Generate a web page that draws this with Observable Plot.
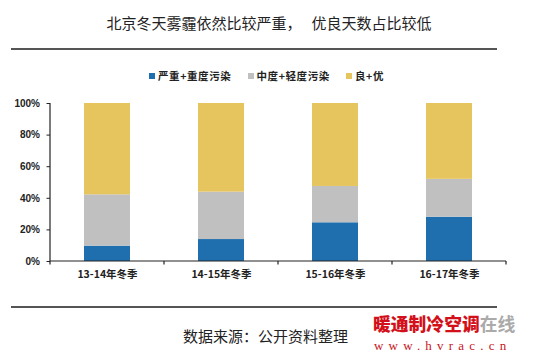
<!DOCTYPE html>
<html>
<head>
<meta charset="utf-8">
<script src="https://cdn.jsdelivr.net/npm/d3@7"></script>
<script src="https://cdn.jsdelivr.net/npm/@observablehq/plot@0.6"></script>
<style>
  html, body { margin: 0; padding: 0; background: #fff; }
  #wrap { position: relative; width: 538px; height: 358px; overflow: hidden; font-family: "Noto Sans CJK SC", sans-serif; }
  #wrap svg { position: absolute; left: 0; top: 0; }
  .title { position: absolute; left: 0; width: 538px; top: 12px; text-align: center; font-size: 15px; color: #222; white-space: pre; }
  .rule { position: absolute; left: 11px; width: 486px; height: 0; border-top: 2px solid #555; }
  .legend { position: absolute; top: 68px; left: 149px; display: flex; font-size: 10.5px; font-weight: bold; color: #222; letter-spacing: 0.6px; }
  .legend .item { display: flex; align-items: center; width: 98.5px; }
  .legend .sw { width: 6px; height: 6px; margin-right: 3px; }
  .caption { position: absolute; top: 325px; left: 183px; font-size: 15px; color: #222; }
  .wm1 { position: absolute; top: 315px; left: 373px; font-size: 17.8px; line-height: 17.8px; font-weight: 900; color: #d3101a; }
  .wm1 span { color: #aaa; font-weight: 700; }
  .wm2 { position: absolute; top: 339px; left: 374px; font-size: 13px; line-height: 13px; font-family: "Liberation Serif", serif; color: #c8141c; letter-spacing: 5.2px; }
</style>
</head>
<body>
<div id="wrap"></div>
<script>
const titleText = "北京冬天雾霾依然比较严重，   优良天数占比较低";
const captionText = "数据来源：公开资料整理";
const seasons = ["13-14年冬季", "14-15年冬季", "15-16年冬季", "16-17年冬季"];
const seriesNames = ["严重+重度污染", "中度+轻度污染", "良+优"];
const seriesColors = ["#1f6eae", "#c0c0c0", "#e6c45e"];
const severe = [9.7, 13.9, 24.5, 28.0];
const moderate = [32.5, 30.0, 23.0, 24.0];
const good = [57.8, 56.1, 52.5, 48.0];
const yTicks = [0, 20, 40, 60, 80, 100];

const seriesValues = [severe, moderate, good];
const data = [];
seasons.forEach((s, i) => {
  seriesNames.forEach((n, j) => data.push({season: s, type: n, value: seriesValues[j][i]}));
});

const wrap = document.getElementById("wrap");

function axisLines(index, scales, values, dimensions) {
  const {x, y} = scales;
  const g = d3.create("svg:g").attr("stroke", "#222").attr("stroke-width", 1.2).attr("fill", "none");
  const xl = dimensions.marginLeft;
  const xr = dimensions.width - dimensions.marginRight;
  const y0 = y(0), y1 = y(100);
  g.append("line").attr("x1", xl).attr("x2", xr).attr("y1", y0).attr("y2", y0);
  g.append("line").attr("x1", xl).attr("x2", xl).attr("y1", y0).attr("y2", y1);
  const step = x.step(), bw = x.bandwidth();
  const bounds = seasons.map(s => x(s) + bw / 2 - step / 2);
  bounds.push(x(seasons[seasons.length - 1]) + bw / 2 + step / 2);
  bounds.forEach(b => g.append("line").attr("x1", b).attr("x2", b).attr("y1", y0).attr("y2", y0 + 3.5));
  return g.node();
}

const chart = Plot.plot({
  width: 538,
  height: 300,
  marginTop: 103,
  marginBottom: 39,
  marginLeft: 50,
  marginRight: 32,
  style: {fontFamily: "'Liberation Sans', 'Noto Sans CJK SC', sans-serif", background: "transparent", overflow: "visible"},
  x: {domain: seasons, paddingInner: 0.6, paddingOuter: 0.3, label: null},
  y: {domain: [0, 100], label: null},
  color: {domain: seriesNames, range: seriesColors},
  marks: [
    Plot.barY(data, {x: "season", y: "value", fill: "type"}),
    Plot.axisY({ticks: yTicks, tickFormat: d => d + "%", tickSize: 3.5, tickPadding: 7, fontSize: 10, fontWeight: "bold", stroke: "#222", color: "#222", label: null}),
    Plot.axisX({tickSize: 0, tickPadding: 9, fontSize: 10.5, fontWeight: "bold", fill: "#222", fontFamily: "'Noto Sans CJK SC', sans-serif", label: null}),
    axisLines
  ]
});
wrap.appendChild(chart);

const title = document.createElement("div");
title.className = "title";
title.textContent = titleText;
wrap.appendChild(title);

for (const top of [48, 306]) {
  const r = document.createElement("div");
  r.className = "rule";
  r.style.top = top + "px";
  wrap.appendChild(r);
}

const legend = document.createElement("div");
legend.className = "legend";
seriesNames.forEach((n, i) => {
  const it = document.createElement("div");
  it.className = "item";
  const sw = document.createElement("div");
  sw.className = "sw";
  sw.style.background = seriesColors[i];
  const t = document.createElement("span");
  t.textContent = n;
  it.appendChild(sw);
  it.appendChild(t);
  legend.appendChild(it);
});
wrap.appendChild(legend);

const cap = document.createElement("div");
cap.className = "caption";
cap.textContent = captionText;
wrap.appendChild(cap);

const wm1 = document.createElement("div");
wm1.className = "wm1";
wm1.innerHTML = "暖通制冷空调<span>在线</span>";
wrap.appendChild(wm1);
const wm2 = document.createElement("div");
wm2.className = "wm2";
wm2.textContent = "www.hvrac.cn";
wrap.appendChild(wm2);
</script>
</body>
</html>
